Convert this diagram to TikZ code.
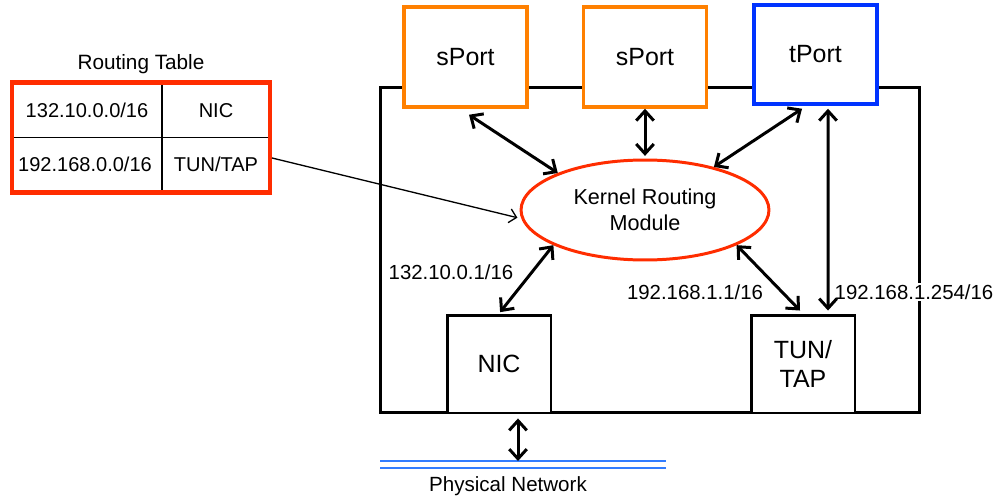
\documentclass[tikz,border=0pt]{standalone}
\usepackage{fontspec}
\setmainfont{Liberation Sans}
\usetikzlibrary{arrows.meta, positioning, shapes.geometric, calc, fit}

\definecolor{portorange}{RGB}{255,128,0}
\definecolor{tportblue}{RGB}{0,51,255}
\definecolor{kernred}{RGB}{255,45,0}
\definecolor{netblue}{RGB}{50,125,255}

\tikzset{
  portbox/.style={draw, line width=2pt, fill=white, minimum width=2.46cm,
                  minimum height=2cm, font=\fontsize{14.2}{17}\selectfont},
  devbox/.style={draw, line width=1.7pt, fill=white, minimum width=2.08cm,
                 minimum height=1.96cm, align=center, font=\fontsize{14.2}{17}\selectfont},
  link/.style={line width=1.7pt,
               {Straight Barb[length=5.5pt,width=10pt]}-{Straight Barb[length=5.5pt,width=10pt]}},
  addr/.style={font=\fontsize{11.6}{13}\selectfont, inner sep=1pt},
  cell/.style={minimum height=1.1cm, inner sep=0pt, font=\fontsize{11.4}{13}\selectfont},
}

\begin{document}
\begin{tikzpicture}[x=0.02cm, y=-0.02cm]
  \useasboundingbox (0,0) rectangle (997,500);

  % routing table
  \node[cell, minimum width=3cm]    (c11) at (87,110)  {132.10.0.0/16};
  \node[cell, minimum width=2.16cm] (c12) at (216,111) {NIC};
  \node[cell, minimum width=2.6cm]    (c21) at (85,164)  {192.168.0.0/16};
  \node[cell, minimum width=2.16cm] (c22) at (216,164) {TUN/TAP};
  \coordinate (tl) at (12,82.5);
  \coordinate (br) at (270,192.5);
  \coordinate (mid) at (162,137.5);
  \draw[line width=1.1pt] (mid |- tl) -- (mid |- br);
  \draw[line width=1.1pt] (tl |- mid) -- (br |- mid);
  \node[fit=(tl)(br), inner sep=0pt, draw=kernred, line width=2.3pt] (rtab) {};
  \node[above=0pt of rtab, font=\fontsize{11.8}{13}\selectfont] (rtitle) {Routing Table};

  % host
  \node[draw, line width=1.7pt, minimum width=10.8cm, minimum height=6.52cm] (host) at (650,250) {};

  \node[portbox, draw=portorange] (sp1) at (465.5,57) {sPort};
  \node[portbox, draw=portorange] (sp2) at (645,57) {sPort};
  \node[portbox, draw=tportblue, minimum height=1.98cm] (tp) at (815.5,54.5) {tPort};

  \node[ellipse, draw=kernred, line width=1.7pt, minimum width=4.96cm, minimum height=2cm,
        inner sep=0pt, align=center, font=\fontsize{12.3}{14.7}\selectfont] (krm) at (645,210)
        {Kernel Routing\\Module};

  \node[devbox] (nic) at (499,364) {NIC};
  \node[devbox] (tun) at (803,364) {TUN/\\TAP};

  \node[addr] (a1) at (451,272) {132.10.0.1/16};
  \node[addr] (a2) at (695,292) {192.168.1.1/16};
  \node[addr, fill=white] (a3) at (914,292) {192.168.1.254/16};

  % physical network
  \coordinate (pnl) at (380,464.5);
  \coordinate (pnr) at (666,464.5);
  \coordinate (pnet) at (518,461);
  \draw[netblue, line width=1.1pt, double distance=2.8pt] (pnl) -- (pnr);
  \node[font=\fontsize{11.7}{13}\selectfont] (pnlabel) at (508,486) {Physical Network};

  % links
  \draw[link] ($(sp1.south)+(3.5,6)$) -- (krm.157);
  \draw[link, shorten >=1.5pt] (sp2.south) -- (krm.north);
  \draw[link] ($(tp.south)+(-13.5,3)$) -- (krm.32);
  \draw[link] ($(tp.south)+(12.5,3)$) -- ($(tun.north)+(25,-3)$);
  \draw[link, shorten >=1pt] (krm.201) -- (nic.north);
  \draw[link] (krm.339) -- ($(tun.north)+(-3,-3)$);
  \draw[link] ($(host.south -| pnet)+(0,4)$) -- (pnet);

  \draw[line width=0.75pt, -{Straight Barb[length=4pt,width=8pt]}, shorten >=2.3pt]
    ($(rtab.east)+(0,20.5)$) -- (krm.184);
\end{tikzpicture}
\end{document}
